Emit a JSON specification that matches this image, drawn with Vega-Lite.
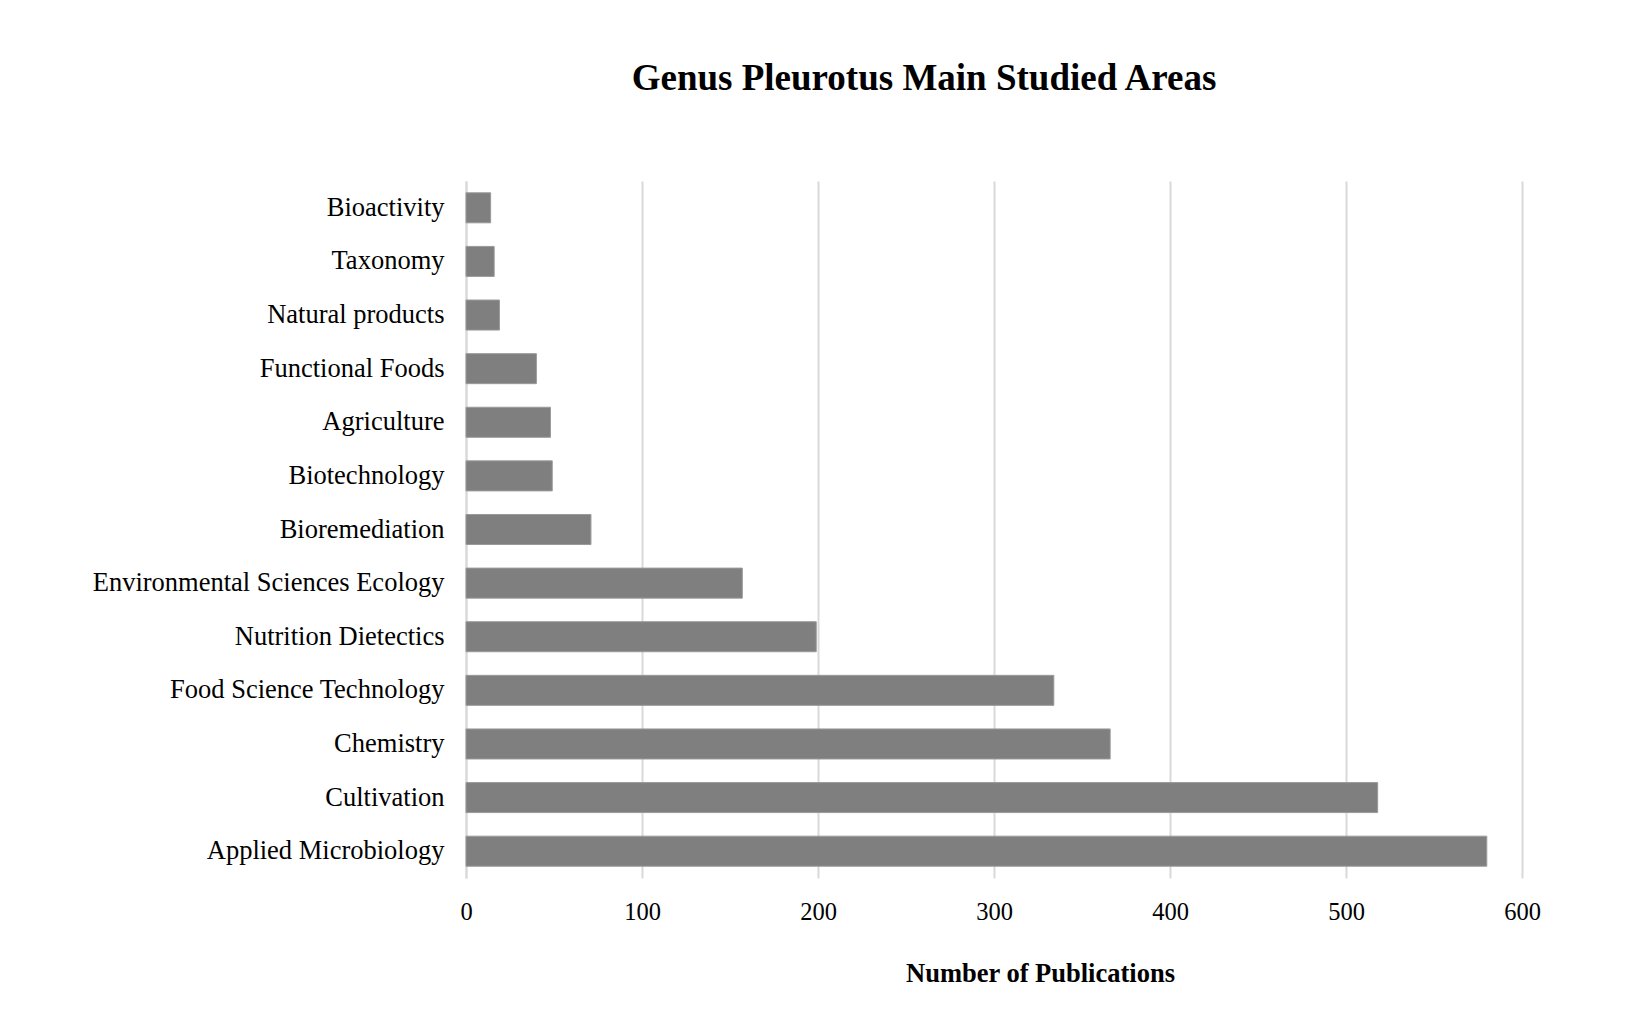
{
  "$schema": "https://vega.github.io/schema/vega-lite/v6.json",
  "autosize": {"type": "none"},
  "padding": {"left": 466, "top": 181, "right": 109, "bottom": 134},
  "width": 1056,
  "height": 697,
  "background": "white",
  "title": {
    "text": "Genus Pleurotus Main Studied Areas",
    "font": "Liberation Serif",
    "fontSize": 37,
    "fontWeight": "bold",
    "color": "#000000",
    "anchor": "middle",
    "dx": -70,
    "offset": 83
  },
  "data": {
    "values": [
      {"area": "Bioactivity\u2002", "publications": 14},
      {"area": "Taxonomy", "publications": 16},
      {"area": "Natural products", "publications": 19},
      {"area": "Functional Foods\u2002", "publications": 40},
      {"area": "Agriculture\u2002", "publications": 48},
      {"area": "Biotechnology", "publications": 49},
      {"area": "Bioremediation", "publications": 71},
      {"area": "Environmental Sciences Ecology", "publications": 157},
      {"area": "Nutrition Dietectics", "publications": 199},
      {"area": "Food Science Technology", "publications": 334},
      {"area": "Chemistry", "publications": 366},
      {"area": "Cultivation", "publications": 518},
      {"area": "Applied Microbiology", "publications": 580}
    ]
  },
  "mark": {"type": "bar", "color": "#7f7f7f", "stroke": "#9a9a9a", "strokeWidth": 1},
  "encoding": {
    "y": {
      "field": "area",
      "type": "nominal",
      "sort": null,
      "scale": {"paddingInner": 0.44, "paddingOuter": 0.22},
      "axis": {
        "title": null,
        "labelFont": "Liberation Serif",
        "labelFontSize": 26.5,
        "labelColor": "#000000",
        "labelPadding": 22,
        "labelLimit": 0,
        "ticks": false,
        "domain": true,
        "domainColor": "#d9d9d9",
        "domainWidth": 2,
        "grid": false
      }
    },
    "x": {
      "field": "publications",
      "type": "quantitative",
      "scale": {"domain": [0, 600], "nice": false},
      "axis": {
        "title": "Number of Publications",
        "titleFont": "Liberation Serif",
        "titleFontSize": 26.5,
        "titleFontWeight": "bold",
        "titleColor": "#000000",
        "titleX": 574,
        "titleY": 103,
        "titleBaseline": "alphabetic",
        "values": [0, 100, 200, 300, 400, 500, 600],
        "labelFont": "Liberation Serif",
        "labelFontSize": 24.5,
        "labelColor": "#000000",
        "labelPadding": 22,
        "labelFlush": false,
        "ticks": false,
        "domain": false,
        "grid": true,
        "gridColor": "#d9d9d9",
        "gridWidth": 2
      }
    }
  },
  "config": {"view": {"stroke": null}}
}
